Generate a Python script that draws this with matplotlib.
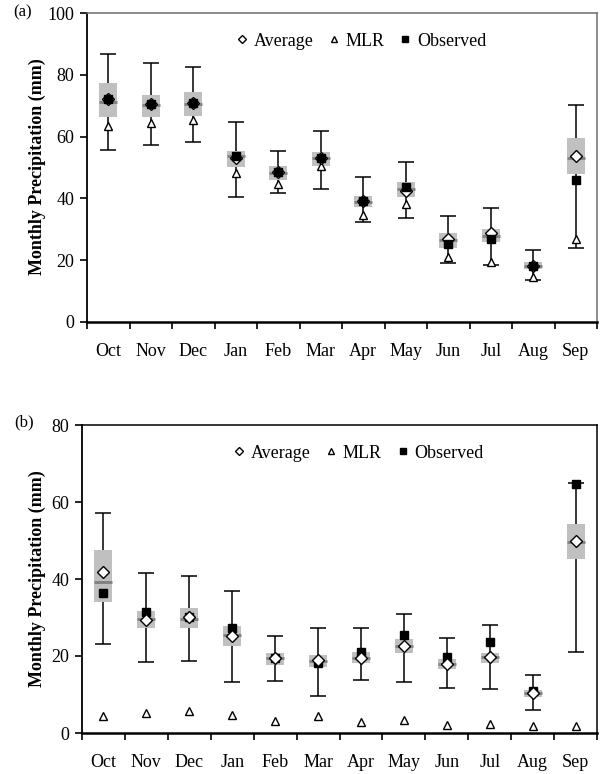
import numpy as np
import matplotlib
matplotlib.use("Agg")
import matplotlib.pyplot as plt
from matplotlib.lines import Line2D

plt.rcParams["font.family"] = ["Liberation Serif", "DejaVu Serif"]

months = ["Oct", "Nov", "Dec", "Jan", "Feb", "Mar", "Apr", "May", "Jun", "Jul", "Aug", "Sep"]

# panel (a)
a_low = [55.8, 57.3, 58.4, 40.6, 41.6, 43.1, 32.5, 33.6, 19.0, 18.4, 13.6, 23.8]
a_q1 = [66.4, 66.2, 66.8, 50.3, 46.0, 50.6, 37.1, 40.6, 23.8, 25.8, 17.1, 47.8]
a_med = [71.3, 70.2, 70.4, 53.8, 48.3, 53.0, 38.9, 43.0, 26.5, 27.8, 18.2, 53.0]
a_q3 = [77.3, 73.6, 74.3, 55.3, 50.5, 55.0, 40.8, 45.2, 28.7, 30.1, 19.3, 59.6]
a_high = [86.7, 83.7, 82.6, 64.6, 55.4, 61.7, 46.9, 51.7, 34.2, 36.9, 23.3, 70.3]
a_avg = [72.3, 70.4, 70.8, 53.0, 48.4, 53.0, 39.0, 42.5, 27.0, 28.7, 18.2, 53.7]
a_obs = [72.3, 70.4, 70.8, 53.8, 48.4, 53.2, 39.0, 43.8, 25.2, 26.8, 18.2, 46.0]
a_mlr = [63.4, 64.3, 65.4, 48.1, 44.7, 50.5, 34.6, 38.1, 20.9, 19.5, 14.7, 26.8]
a_yticks = [0, 20, 40, 60, 80, 100]

# panel (b)
b_low = [23.0, 18.5, 18.8, 13.2, 13.5, 9.7, 13.8, 13.3, 11.6, 11.3, 6.0, 21.1]
b_q1 = [33.9, 27.4, 27.2, 22.7, 17.6, 17.1, 18.3, 20.7, 16.5, 18.3, 9.4, 45.1]
b_med = [39.2, 29.5, 29.5, 25.5, 19.4, 18.7, 19.6, 22.7, 17.9, 19.7, 10.3, 49.7]
b_q3 = [47.5, 31.7, 32.4, 27.8, 20.7, 20.3, 21.0, 24.4, 19.1, 20.7, 11.2, 54.3]
b_high = [57.1, 41.5, 40.9, 37.0, 25.3, 27.2, 27.2, 30.8, 24.6, 28.1, 15.0, 64.9]
b_avg = [41.7, 29.4, 30.2, 25.3, 19.6, 19.0, 19.4, 22.7, 17.9, 19.7, 10.3, 49.9]
b_obs = [36.3, 31.3, 30.2, 27.4, 19.6, 18.3, 21.0, 25.5, 19.7, 23.7, 10.9, 64.6]
b_mlr = [4.4, 5.1, 5.7, 4.8, 3.2, 4.5, 2.9, 3.4, 2.1, 2.3, 1.8, 1.8]
b_yticks = [0, 20, 40, 60, 80]

W, H = 601, 774
BOX_W = 0.42


def draw_panel(ax, low, q1, med, q3, high, avg, obs, mlr, yticks, frame_color, obs_on_top):
    x = np.arange(len(months))
    low, q1, med, q3, high = map(np.array, (low, q1, med, q3, high))

    # whiskers go under the box, the box hides the middle part of the line
    ax.errorbar(x, med, yerr=[med - low, high - med], fmt="none", ecolor="black",
                elinewidth=1.1, capsize=6, capthick=1.1, zorder=1)
    ax.bar(x, q3 - q1, bottom=q1, width=BOX_W, color="#c0c0c0", zorder=2)
    ax.hlines(med, x - BOX_W / 2, x + BOX_W / 2, color="#808080", lw=2, zorder=3)

    ax.plot(x, mlr, "^", ms=5.5, mfc="white", mec="black", mew=1, ls="none", zorder=4)
    z_obs, z_avg = (6, 5) if obs_on_top else (5, 6)
    ax.plot(x, avg, "D", ms=6, mfc="white", mec="black", mew=1, ls="none", zorder=z_avg)
    ax.plot(x, obs, "s", ms=6, mfc="black", mec="black", ls="none", zorder=z_obs)

    ax.set_xlim(-0.5, len(months) - 0.5)
    ax.set_ylim(yticks[0], yticks[-1])
    ax.set_yticks(yticks)
    ax.set_xticks(x)
    ax.set_xticklabels(months)
    ax.set_xticks(np.arange(len(months) + 1) - 0.5, minor=True)
    ax.tick_params(axis="x", which="major", length=0, pad=15, labelsize=13)
    ax.tick_params(axis="x", which="minor", length=5, width=1.2, direction="out")
    ax.tick_params(axis="y", length=5, width=1.2, direction="out", pad=4, labelsize=13)

    ax.spines["left"].set_linewidth(1.3)
    ax.spines["bottom"].set_linewidth(1.8)
    for side in ("top", "right"):
        ax.spines[side].set_color(frame_color)
        ax.spines[side].set_linewidth(1.1)

    handles = [
        Line2D([], [], marker="D", ms=4.5, mfc="white", mec="black", mew=1, ls="none", label="Average"),
        Line2D([], [], marker="^", ms=4, mfc="white", mec="black", mew=1, ls="none", label="MLR"),
        Line2D([], [], marker="s", ms=4, mfc="black", mec="black", ls="none", label="Observed"),
    ]
    return handles


fig = plt.figure(figsize=(W / 100, H / 100), dpi=100)

ax_a = fig.add_axes([87 / W, 1 - 322 / H, 510 / W, 309 / H])
h = draw_panel(ax_a, a_low, a_q1, a_med, a_q3, a_high, a_avg, a_obs, a_mlr,
               a_yticks, "#6e6e6e", True)
ax_a.legend(handles=h, ncol=3, frameon=False, loc="center", fontsize=13,
            bbox_to_anchor=(0.537, 0.909), handlelength=0.7, handletextpad=0.3,
            columnspacing=0.8, borderpad=0)

ax_b = fig.add_axes([82 / W, 1 - 733 / H, 515 / W, 308 / H])
h = draw_panel(ax_b, b_low, b_q1, b_med, b_q3, b_high, b_avg, b_obs, b_mlr,
               b_yticks, "black", False)
ax_b.legend(handles=h, ncol=3, frameon=False, loc="center", fontsize=13,
            bbox_to_anchor=(0.536, 0.909), handlelength=0.7, handletextpad=0.3,
            columnspacing=0.8, borderpad=0)

ylabel = "Monthly Precipitation (mm)"
fig.text(37 / W, 1 - 167 / H, ylabel, rotation=90, ha="center", va="center",
         fontsize=13, fontweight="bold")
fig.text(37 / W, 1 - 579 / H, ylabel, rotation=90, ha="center", va="center",
         fontsize=13, fontweight="bold")
fig.text(23 / W, 1 - 12 / H, "(a)", ha="center", va="center", fontsize=12)
fig.text(24 / W, 1 - 422 / H, "(b)", ha="center", va="center", fontsize=12)

fig.savefig("out.png", dpi=100)
